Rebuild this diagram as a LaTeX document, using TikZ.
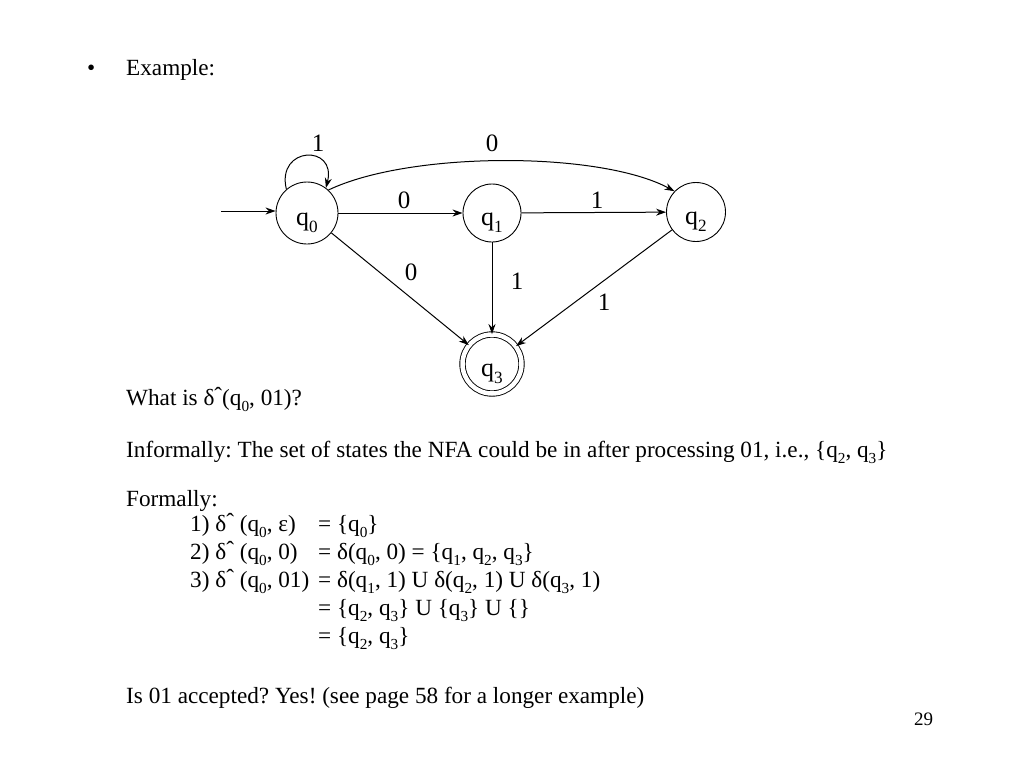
\documentclass[tikz,border=0pt]{standalone}
\usepackage{fontspec}
\setmainfont{Liberation Serif}
\usetikzlibrary{arrows.meta}
\newcommand\qq[1]{q\raisebox{-0.28em}{\scalebox{0.66}{#1}}}
\newcommand\dhat{δ\raisebox{0.05em}{ˆ}}
\frenchspacing
\begin{document}
\begin{tikzpicture}[x=1pt,y=-1pt,
  txt/.style={font=\fontsize{23.2}{29}\selectfont, inner sep=0pt, anchor=base west},
  lbl/.style={font=\fontsize{25}{29}\selectfont, inner sep=0pt},
  state/.style={circle, draw, line width=0.9pt, minimum size=58pt, inner sep=0pt, text height=24pt, text depth=0pt, font=\fontsize{26}{29}\selectfont},
  accept/.style={state, double, double distance=4.5pt, minimum size=59pt},
  edge/.style={line width=1pt, -{Stealth[length=10pt,width=7pt]}}]
\useasboundingbox (0,0) rectangle (1024,768);
% header
\node[txt] (bul) at (87,75) {\textbullet};
\node[txt] (ex) at (126,75) {Example:};
% states
\node[state, minimum size=62pt] (q0) at (307,213) {\qq{0}};
\node[state, minimum size=58pt] (q1) at (492,213) {\qq{1}};
\node[state, minimum size=59pt] (q2) at (696,212) {\qq{2}};
\node[accept] (q3) at (492,364) {\qq{3}};
\coordinate (start) at (221,211);
% edges
\draw[edge] (start) -- (start -| q0.west);
\draw[edge] (q0.131) .. controls (276,146) and (337,144) .. (q0.53);
\draw[edge] (q0.47) .. controls (410,151) and (600,151) .. (q2.136);
\draw[edge] (q0) -- (q1);
\draw[edge] (q1) -- (q2);
\draw[edge] (q0) -- (q3);
\draw[edge] (q1) -- (q3);
\draw[edge] (q2) -- (q3);
% edge labels
\node[lbl] (l00) at (318,143) {1};
\node[lbl] (l02) at (492,143) {0};
\node[lbl] (l01) at (404,200) {0};
\node[lbl] (l12) at (597,200) {1};
\node[lbl] (l03) at (411,272) {0};
\node[lbl] (l13) at (517,281) {1};
\node[lbl] (l23) at (604,302) {1};
% text
\node[txt] (what) at (126,405) {What is \dhat(\qq{0}, 01)?};
\node[txt] (inf) at (126,457) {Informally: The set of states the NFA could be in after processing 01, i.e., \{\qq{2}, \qq{3}\}};
\node[txt] (form) at (126,506) {Formally:};
\node[txt] (a1) at (190,531) {1) \dhat\ (\qq{0}, ε)};
\node[txt] (b1) at (318,531) {= \{\qq{0}\}};
\node[txt] (a2) at (190,559) {2) \dhat\ (\qq{0}, 0)};
\node[txt] (b2) at (318,559) {= δ(\qq{0}, 0) = \{\qq{1}, \qq{2}, \qq{3}\}};
\node[txt] (a3) at (190,587) {3) \dhat\ (\qq{0}, 01)};
\node[txt] (b3) at (318,587) {= δ(\qq{1}, 1) U δ(\qq{2}, 1) U δ(\qq{3}, 1)};
\node[txt] (b4) at (318,615) {= \{\qq{2}, \qq{3}\} U \{\qq{3}\} U \{\}};
\node[txt] (b5) at (318,643) {= \{\qq{2}, \qq{3}\}};
\node[txt] (acc) at (126,703) {Is 01 accepted? Yes! (see page 58 for a longer example)};
\node[txt, font=\fontsize{19}{24}\selectfont] (pg) at (914,725) {29};
\end{tikzpicture}
\end{document}
